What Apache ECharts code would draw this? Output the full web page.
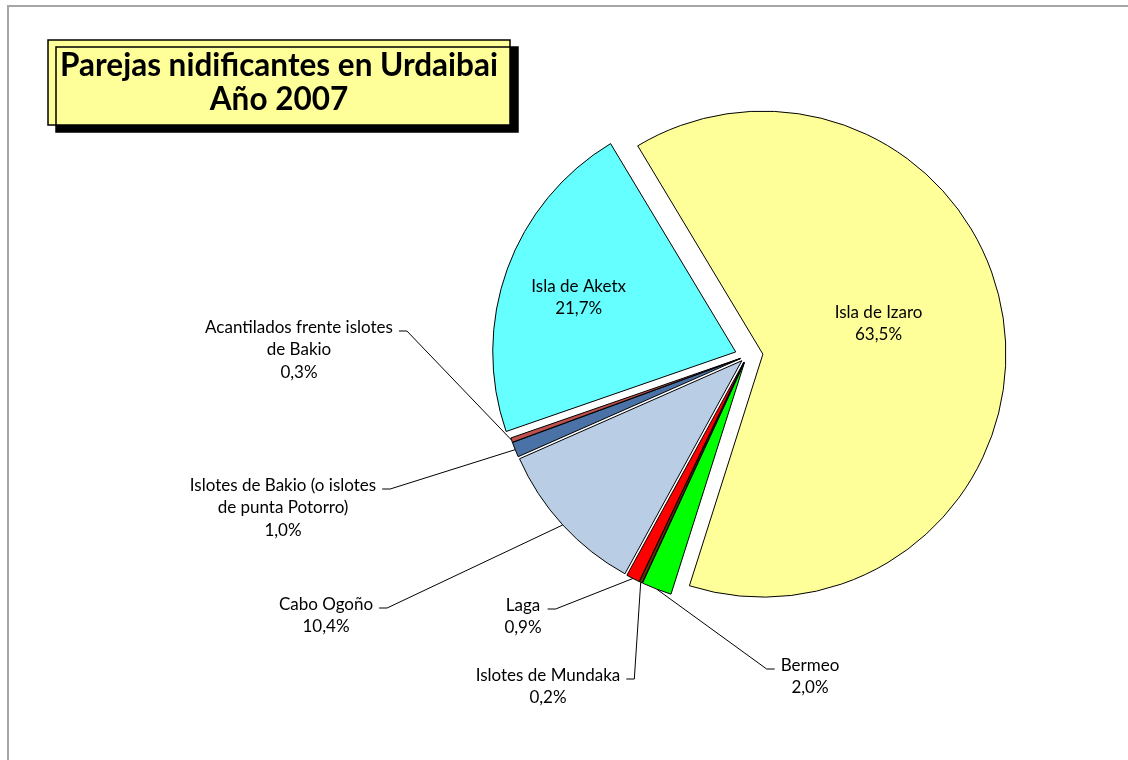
<!DOCTYPE html>
<html>
<head>
<meta charset="utf-8">
<script src="https://cdn.jsdelivr.net/npm/echarts@6/dist/echarts.min.js"></script>
<style>
  html, body { margin: 0; padding: 0; background: #fff; overflow: hidden; }
  #chart { position: absolute; left: 0; top: 0; width: 1128px; height: 760px; }
  /* marco gris del gráfico */
  #frame {
    position: absolute; left: 7px; top: 5px; width: 1200px; height: 800px;
    border-top: 2px solid #a6a6a6; border-left: 2px solid #a6a6a6;
    pointer-events: none;
  }
</style>
</head>
<body>
<div id="chart"></div>
<div id="frame"></div>
<script>
// datos del gráfico
const sites = ['Isla de Izaro', 'Bermeo', 'Islotes de Mundaka', 'Laga', 'Cabo Ogoño',
  'Islotes de Bakio (o islotes de punta Potorro)', 'Acantilados frente islotes de Bakio', 'Isla de Aketx'];
const percents = [63.5, 2.0, 0.2, 0.9, 10.4, 1.0, 0.3, 21.7];
const labelTexts = ['Isla de Izaro', 'Bermeo', 'Islotes de Mundaka', 'Laga', 'Cabo Ogoño',
  'Islotes de Bakio (o islotes\nde punta Potorro)', 'Acantilados frente islotes\nde Bakio', 'Isla de Aketx'];
const sliceColors = ['#ffff99', '#00ff00', '#663300', '#ff0000', '#b9cde5', '#4a72a6', '#c0504d', '#66ffff'];

// posición de las etiquetas exteriores: centro del texto y de la primera línea
const labelPos = [null, [810, 665], [548, 675], [523, 605], [326, 604], [283, 485], [299, 327], null];
const labelSide = [null, 'right', 'left', 'left', 'left', 'left', 'left', null];

const CENTER = [747, 356];
const RADIUS = 243;
const FONT = 'Lato';
const FONT_SIZE = 17;

const chart = echarts.init(document.getElementById('chart'));

function fmtPct(v) {
  return v.toFixed(1).replace('.', ',') + '%';
}

// una serie por grupo de porciones, con su propio desplazamiento
function makeSeries(visible, offset, labelMode) {
  return {
    type: 'pie',
    center: CENTER,
    radius: labelMode === 'outside' ? RADIUS + 7 : RADIUS,
    startAngle: 121,
    clockwise: true,
    animation: false,
    avoidLabelOverlap: false,
    selectedMode: 'multiple',
    selectedOffset: offset,
    emphasis: { disabled: true },
    data: sites.map((name, i) => {
      const show = visible.indexOf(i) >= 0;
      const item = {
        name: name,
        value: percents[i],
        selected: show && labelMode !== 'outside',
        itemStyle: {
          color: (show && labelMode !== 'outside') ? sliceColors[i] : 'rgba(0,0,0,0)',
          borderColor: '#000',
          borderWidth: (show && labelMode !== 'outside') ? 1 : 0
        },
        label: { show: show && labelMode !== 'none' },
        labelLine: { show: show && labelMode === 'outside' }
      };
      return item;
    }),
    label: {
      position: labelMode === 'inside' ? 'inside' : 'outside',
      color: '#000',
      fontFamily: FONT,
      fontSize: FONT_SIZE,
      lineHeight: 22.5,
      align: 'center',
      formatter: p => labelTexts[p.dataIndex] + '\n' + fmtPct(p.value)
    },
    labelLine: {
      lineStyle: { color: '#000', width: 1 }
    }
  };
}

// etiqueta interior: una línea vacía al final sube el texto dentro de la porción
function insideLabel(padRight, lift) {
  return {
    show: true,
    padding: [0, padRight, 0, 0],
    formatter: p => '{a|' + labelTexts[p.dataIndex] + '}\n{a|' + fmtPct(p.value) + '}\n{s| }',
    rich: {
      a: { fontFamily: FONT, fontSize: FONT_SIZE, lineHeight: 22.5, color: '#000', align: 'center' },
      s: { fontSize: 1, lineHeight: lift * 2 }
    }
  };
}

const izaro = makeSeries([0], 16, 'inside');
izaro.data[0].label = insideLabel(16, 16);

const aketx = makeSeries([7], 12, 'inside');
aketx.data[7].label = insideLabel(80, 12);

const smalls = makeSeries([1, 2, 3, 4, 5, 6], 7, 'none');

const labels = makeSeries([1, 2, 3, 4, 5, 6], 0, 'outside');
labels.silent = true;
labels.labelLayout = function (p) {
  const i = p.dataIndex;
  const pos = labelPos[i];
  if (!pos) return {};
  const w = p.labelRect.width;
  const lineY = pos[1] + 4;
  let endX, elbowX;
  if (labelSide[i] === 'left') {
    endX = pos[0] + w / 2 + 6;
    elbowX = endX + 8;
  } else {
    endX = pos[0] - w / 2 - 6;
    elbowX = endX - 8;
  }
  const start = p.labelLinePoints[0];
  return {
    x: pos[0],
    y: pos[1] - 11,
    align: 'center',
    verticalAlign: 'top',
    labelLinePoints: [start, [elbowX, lineY], [endX, lineY]]
  };
};

const option = {
  backgroundColor: '#fff',
  title: {
    text: '{t|Parejas nidificantes en Urdaibai}\n{t|Año 2007}',
    left: 48,
    top: 39,
    backgroundColor: '#ffff99',
    borderColor: '#000',
    borderWidth: 1.5,
    padding: [10, 8, 9, 8],
    shadowColor: '#000',
    shadowBlur: 0,
    shadowOffsetX: 8,
    shadowOffsetY: 7,
    textStyle: {
      rich: {
        t: {
          fontFamily: FONT,
          fontWeight: 'bold',
          fontSize: 31.5,
          lineHeight: 34,
          color: '#000',
          width: 446,
          align: 'center'
        }
      }
    }
  },
  series: [smalls, izaro, aketx, labels]
};

chart.setOption(option);
</script>
</body>
</html>
